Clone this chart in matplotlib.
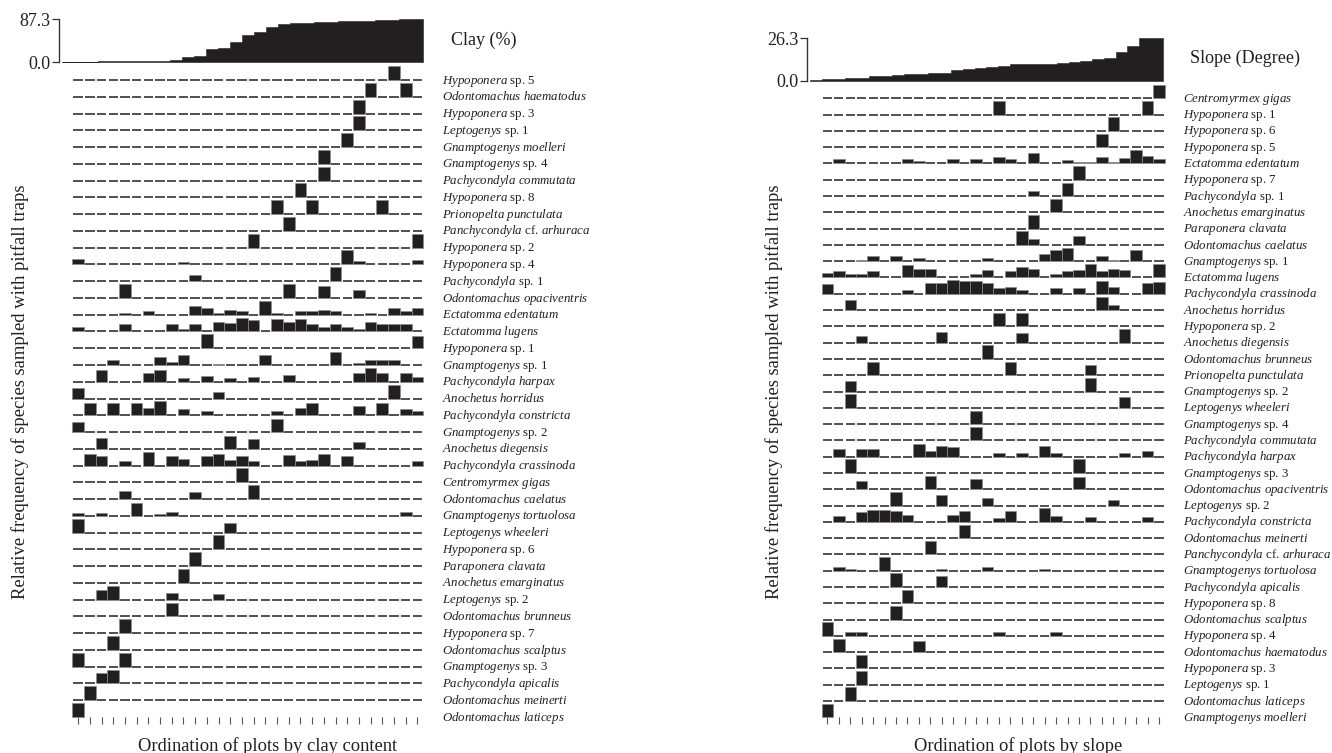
import numpy as np
import matplotlib
matplotlib.use("Agg")
import matplotlib.pyplot as plt

plt.rcParams['font.family'] = ['Liberation Serif', 'DejaVu Serif']
plt.rcParams['mathtext.fontset'] = 'custom'
plt.rcParams['mathtext.it'] = 'Liberation Serif:italic'
plt.rcParams['mathtext.rm'] = 'Liberation Serif'

# ---------------- data ----------------
n_plots = 30
clay_values = [1.0, 1.2, 1.5, 1.8, 2.1, 2.4, 2.7, 2.9, 3.2, 4.7, 10.1, 12.8, 26.9, 29.5,
               41.6, 55.0, 61.8, 71.9, 77.2, 78.6, 79.2, 80.6, 81.3, 82.6, 83.3, 84.0,
               84.6, 86.0, 86.6, 87.3]
slope_values = [0.6, 0.8, 1.0, 1.4, 1.9, 2.9, 3.1, 3.3, 4.1, 4.3, 4.6, 5.0, 6.4, 7.2,
                7.7, 8.7, 9.1, 10.1, 10.4, 10.4, 10.6, 10.8, 11.8, 12.4, 13.3, 14.3,
                17.6, 21.7, 26.3, 26.3]

clay_species = [
    "Hypoponera sp. 5", "Odontomachus haematodus", "Hypoponera sp. 3", "Leptogenys sp. 1",
    "Gnamptogenys moelleri", "Gnamptogenys sp. 4", "Pachycondyla commutata", "Hypoponera sp. 8",
    "Prionopelta punctulata", "Panchycondyla cf. arhuraca", "Hypoponera sp. 2", "Hypoponera sp. 4",
    "Pachycondyla sp. 1", "Odontomachus opaciventris", "Ectatomma edentatum", "Ectatomma lugens",
    "Hypoponera sp. 1", "Gnamptogenys sp. 1", "Pachycondyla harpax", "Anochetus horridus",
    "Pachycondyla constricta", "Gnamptogenys sp. 2", "Anochetus diegensis", "Pachycondyla crassinoda",
    "Centromyrmex gigas", "Odontomachus caelatus", "Gnamptogenys tortuolosa", "Leptogenys wheeleri",
    "Hypoponera sp. 6", "Paraponera clavata", "Anochetus emarginatus", "Leptogenys sp. 2",
    "Odontomachus brunneus", "Hypoponera sp. 7", "Odontomachus scalptus", "Gnamptogenys sp. 3",
    "Pachycondyla apicalis", "Odontomachus meinerti", "Odontomachus laticeps"]

# relative frequency per plot (column index: value), ordered by clay
clay_freq = [
    {27: 1}, {25: 1, 28: 1}, {24: 1}, {24: 1}, {23: 1}, {21: 1}, {21: 1}, {19: 1},
    {17: 1, 20: 1, 26: 1}, {18: 1}, {15: 1, 29: 1},
    {0: 0.4, 9: 0.2, 23: 1, 24: 0.25, 29: 0.35},
    {10: 0.45, 22: 1},
    {4: 1, 18: 1, 21: 0.85, 24: 0.6},
    {4: 0.15, 6: 0.25, 10: 0.65, 11: 0.5, 12: 0.1, 13: 0.35, 14: 0.25, 16: 0.95, 17: 0.15,
     19: 0.25, 20: 0.25, 21: 0.35, 22: 0.25, 25: 0.15, 27: 0.5, 28: 0.25, 29: 0.5},
    {0: 0.3, 4: 0.55, 8: 0.55, 9: 0.15, 10: 0.55, 12: 0.7, 13: 0.6, 14: 0.95, 15: 0.8,
     17: 0.9, 18: 0.7, 19: 0.9, 20: 0.5, 21: 0.3, 22: 0.5, 23: 0.35, 24: 0.15, 25: 0.7,
     26: 0.5, 27: 0.5, 28: 0.5},
    {11: 1, 29: 0.85},
    {3: 0.35, 7: 0.6, 8: 0.2, 9: 0.75, 12: 0.08, 16: 0.75, 22: 0.95, 24: 0.15, 25: 0.35,
     26: 0.35, 27: 0.35},
    {2: 0.85, 6: 0.65, 7: 0.85, 9: 0.3, 11: 0.4, 13: 0.3, 15: 0.35, 18: 0.5, 24: 0.6,
     25: 1.0, 26: 0.6, 28: 0.6, 29: 0.35},
    {0: 0.75, 12: 0.45, 27: 1.0},
    {1: 0.85, 3: 0.85, 5: 0.85, 6: 0.55, 7: 1.0, 9: 0.45, 11: 0.3, 17: 0.3, 19: 0.55,
     20: 0.85, 24: 0.7, 26: 0.85, 28: 0.45, 29: 0.3},
    {0: 0.7, 17: 0.95},
    {2: 0.8, 13: 0.95, 15: 0.7, 24: 0.5},
    {1: 0.85, 2: 0.7, 4: 0.35, 6: 1.0, 8: 0.7, 9: 0.45, 11: 0.7, 12: 0.85, 13: 0.4,
     14: 0.7, 15: 0.35, 18: 0.75, 19: 0.3, 20: 0.4, 21: 0.85, 23: 0.7, 29: 0.35},
    {14: 1}, {4: 0.6, 10: 0.5, 15: 1},
    {0: 0.2, 2: 0.2, 5: 0.95, 7: 0.15, 8: 0.25, 28: 0.25},
    {0: 1, 13: 0.7}, {12: 1}, {10: 1}, {9: 1},
    {2: 0.7, 3: 0.95, 8: 0.5, 12: 0.4},
    {8: 1}, {4: 1}, {3: 1}, {0: 1, 4: 1}, {2: 0.75, 3: 1}, {1: 1}, {0: 1}]

slope_species = [
    "Centromyrmex gigas", "Hypoponera sp. 1", "Hypoponera sp. 6", "Hypoponera sp. 5",
    "Ectatomma edentatum", "Hypoponera sp. 7", "Pachycondyla sp. 1", "Anochetus emarginatus",
    "Paraponera clavata", "Odontomachus caelatus", "Gnamptogenys sp. 1", "Ectatomma lugens",
    "Pachycondyla crassinoda", "Anochetus horridus", "Hypoponera sp. 2", "Anochetus diegensis",
    "Odontomachus brunneus", "Prionopelta punctulata", "Gnamptogenys sp. 2", "Leptogenys wheeleri",
    "Gnamptogenys sp. 4", "Pachycondyla commutata", "Pachycondyla harpax", "Gnamptogenys sp. 3",
    "Odontomachus opaciventris", "Leptogenys sp. 2", "Pachycondyla constricta", "Odontomachus meinerti",
    "Panchycondyla cf. arhuraca", "Gnamptogenys tortuolosa", "Pachycondyla apicalis", "Hypoponera sp. 8",
    "Odontomachus scalptus", "Hypoponera sp. 4", "Odontomachus haematodus", "Hypoponera sp. 3",
    "Leptogenys sp. 1", "Odontomachus laticeps", "Gnamptogenys moelleri"]

# relative frequency per plot (column index: value), ordered by slope
slope_freq = [
    {29: 1}, {15: 1, 28: 1}, {25: 1}, {24: 1},
    {1: 0.3, 7: 0.3, 8: 0.2, 11: 0.3, 13: 0.35, 15: 0.5, 16: 0.3, 18: 0.75, 21: 0.25,
     22: 0.12, 23: 0.12, 24: 0.5, 25: 0.08, 26: 0.4, 27: 1.0, 28: 0.55, 29: 0.3},
    {22: 1}, {18: 0.35, 21: 1}, {20: 1}, {18: 1},
    {17: 1, 18: 0.45, 22: 0.65},
    {3: 0.1, 4: 0.4, 6: 0.4, 8: 0.25, 14: 0.2, 19: 0.55, 20: 0.8, 21: 1.0, 24: 0.4,
     25: 0.1, 27: 0.8},
    {0: 0.35, 1: 0.45, 2: 0.25, 3: 0.25, 4: 0.45, 7: 0.9, 8: 0.65, 9: 0.65, 13: 0.25,
     14: 0.55, 16: 0.45, 17: 0.8, 18: 0.6, 20: 0.25, 21: 0.45, 22: 0.55, 23: 1.0,
     24: 0.45, 25: 0.6, 26: 0.55, 29: 1.0},
    {0: 0.75, 7: 0.3, 9: 0.8, 10: 0.8, 11: 1.0, 12: 0.95, 13: 0.95, 14: 0.8, 15: 0.4,
     16: 0.5, 17: 0.3, 20: 0.45, 22: 0.4, 24: 0.95, 25: 0.5, 28: 0.8, 29: 0.85},
    {2: 0.75, 24: 1.0, 25: 0.4},
    {15: 1, 17: 1},
    {3: 0.5, 10: 0.8, 17: 0.75, 26: 1},
    {14: 1},
    {4: 1, 16: 1, 23: 0.75},
    {2: 0.8, 23: 1},
    {2: 1, 26: 0.8},
    {13: 1}, {13: 1},
    {1: 0.55, 3: 0.55, 4: 0.55, 8: 0.95, 9: 0.45, 10: 0.8, 11: 0.7, 15: 0.3, 17: 0.3,
     19: 0.8, 20: 0.25, 26: 0.25, 28: 0.4},
    {2: 1, 22: 1},
    {3: 0.6, 9: 1, 13: 0.75, 22: 0.9},
    {6: 1, 10: 0.8, 14: 0.55, 25: 0.4},
    {1: 0.45, 3: 0.75, 4: 0.85, 5: 0.85, 6: 0.8, 7: 0.5, 11: 0.5, 12: 0.8, 15: 0.3,
     16: 0.8, 19: 1.0, 20: 0.45, 23: 0.35, 28: 0.35},
    {12: 1}, {9: 1},
    {1: 0.25, 2: 0.15, 5: 1, 10: 0.15, 14: 0.25, 19: 0.15},
    {6: 1, 10: 0.8}, {7: 1}, {6: 1},
    {0: 1, 2: 0.3, 3: 0.25, 15: 0.3, 20: 0.25},
    {1: 1, 8: 0.8}, {3: 1}, {3: 1}, {2: 1}, {0: 1}]

# ---------------- helpers ----------------
W, H = 1332, 753
DARK = '#231f20'
fig = plt.figure(figsize=(W / 100, H / 100), dpi=100)


def add_ax(x0, x1, ytop, ybot):
    return fig.add_axes([x0 / W, 1 - ybot / H, (x1 - x0) / W, (ybot - ytop) / H])


def fmt(name):
    roman = {"sp.", "cf."}
    out, itbuf = [], []
    for tok in name.split():
        if tok in roman or tok.isdigit():
            if itbuf:
                out.append(r"$\mathit{" + r"\ ".join(itbuf) + "}$")
                itbuf = []
            out.append(tok)
        else:
            itbuf.append(tok)
    if itbuf:
        out.append(r"$\mathit{" + r"\ ".join(itbuf) + "}$")
    return " ".join(out)


def draw_panel(x0, x1, ybase0, ybase_last, species, freq, label_x):
    nrow = len(species)
    sp = (ybase_last - ybase0) / (nrow - 1)
    ax = add_ax(x0, x1, ybase0 - sp, ybase_last)
    ax.set_xlim(0, n_plots)
    ax.set_ylim(0, nrow)
    for r, (name, d) in enumerate(zip(species, freq)):
        base = nrow - 1 - r
        vals = np.zeros(n_plots)
        for c, v in d.items():
            vals[c] = v
        for c in range(n_plots):
            if vals[c] > 0:
                ax.bar(c + 0.5, vals[c] * 0.83, width=1.0, bottom=base, color=DARK,
                       edgecolor='#8c8c8c', linewidth=0.5, clip_on=False, zorder=3)
            elif r < nrow - 1:
                ax.plot([c + 0.1, c + 0.9], [base, base], color=DARK, lw=1.1,
                        solid_capstyle='butt', clip_on=False, zorder=2)
        ypx = ybase0 + r * sp + 3.6
        fig.text(label_x / W, 1 - ypx / H, fmt(name), fontsize=9.25,
                 ha='left', va='baseline', color=DARK)
    for s in ax.spines.values():
        s.set_visible(False)
    ax.set_yticks([])
    ax.set_xticks(np.arange(n_plots) + 0.5)
    ax.tick_params(axis='x', length=5, width=0.8, color='#555555', labelbottom=False)
    return ax


def draw_top(x_spine, x1, ytop, ybot, values, vmax):
    ax = add_ax(x_spine, x1, ytop, ybot)
    n = len(values)
    ax.set_xlim(0, n)
    ax.set_ylim(0, vmax)
    xe = np.arange(n + 1)
    ye = np.r_[values, values[-1]]
    ax.fill_between(xe, ye, step='post', color=DARK, lw=0.4, edgecolor=DARK)
    for k in ['top', 'right', 'bottom']:
        ax.spines[k].set_visible(False)
    ax.spines['left'].set_linewidth(1.0)
    ax.spines['left'].set_color('#333333')
    ax.spines['left'].set_position(('outward', 2))
    ax.set_xticks([])
    ax.set_yticks([0, vmax])
    ax.set_yticklabels(["0.0", f"{vmax:.1f}"])
    ax.tick_params(axis='y', length=5, width=0.9, pad=1, labelsize=13, color='#333333',
                   labelcolor=DARK)
    return ax


# ---------------- left panel (clay) ----------------
draw_top(61.7, 422.7, 19.0, 62.3, clay_values, 87.3)
draw_panel(72.3, 423.3, 80.0, 717.0, clay_species, clay_freq, 441.7)
fig.text(450.7 / W, 1 - 40.7 / H, "Clay (%)", fontsize=13, ha='left', va='center', color=DARK)
fig.text(20 / W, 1 - 391.7 / H, "Relative frequency of species sampled with pitfall traps",
         rotation=90, fontsize=13.4, ha='center', va='center', color=DARK)
fig.text(267.5 / W, 1 - 746 / H, "Ordination of plots by clay content", fontsize=13.3,
         ha='center', va='center', color=DARK)

# ---------------- right panel (slope) ----------------
draw_top(810.0, 1162.7, 38.3, 80.7, slope_values, 26.3)
draw_panel(821.7, 1164.7, 98.3, 717.3, slope_species, slope_freq, 1182.7)
fig.text(1190 / W, 1 - 58.3 / H, "Slope (Degree)", fontsize=13, ha='left', va='center', color=DARK)
fig.text(774 / W, 1 - 391.7 / H, "Relative frequency of species sampled with pitfall traps",
         rotation=90, fontsize=13.4, ha='center', va='center', color=DARK)
fig.text(1018.3 / W, 1 - 746 / H, "Ordination of plots by slope", fontsize=13.3,
         ha='center', va='center', color=DARK)

fig.savefig("out.png", dpi=100, facecolor='white')
